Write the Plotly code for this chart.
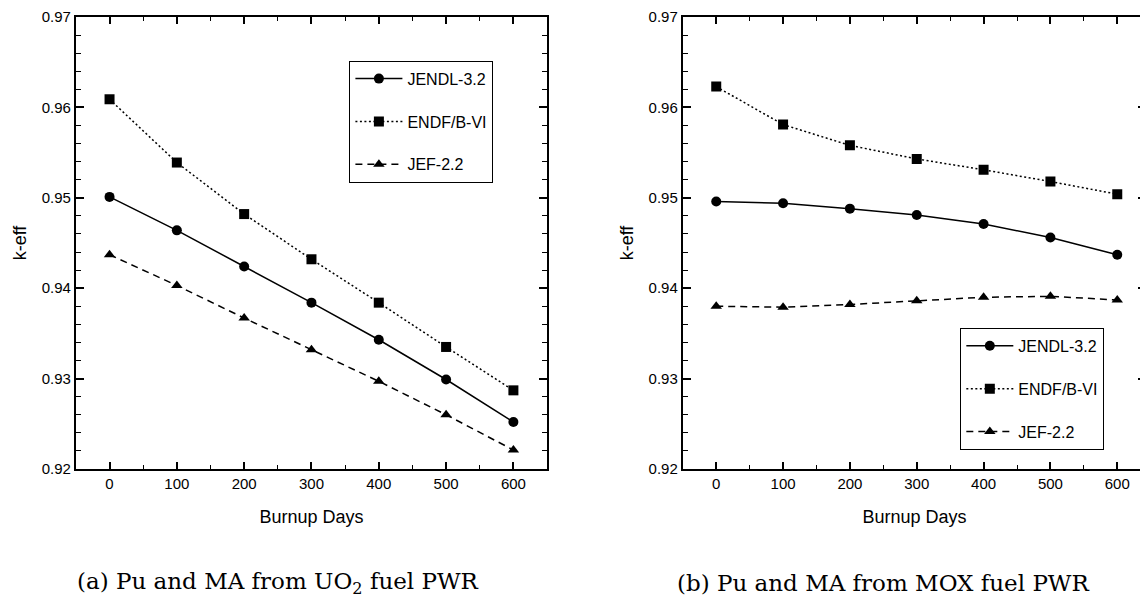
import plotly.graph_objects as go

days = [0, 100, 200, 300, 400, 500, 600]

# (a) Pu and MA from UO2 fuel PWR
uo2_jendl = [0.9501, 0.9464, 0.9424, 0.9384, 0.9343, 0.9299, 0.9252]
uo2_endf = [0.9609, 0.9539, 0.9482, 0.9432, 0.9384, 0.9335, 0.9287]
uo2_jef = [0.9437, 0.9403, 0.9367, 0.9332, 0.9297, 0.9260, 0.9221]

# (b) Pu and MA from MOX fuel PWR
mox_jendl = [0.9496, 0.9494, 0.9488, 0.9481, 0.9471, 0.9456, 0.9437]
mox_endf = [0.9623, 0.9581, 0.9558, 0.9543, 0.9531, 0.9518, 0.9504]
mox_jef = [0.9380, 0.9379, 0.9382, 0.9386, 0.9390, 0.9391, 0.9387]

series_names = ["JENDL-3.2", "ENDF/B-VI", "JEF-2.2"]
y_ticks = [0.92, 0.93, 0.94, 0.95, 0.96, 0.97]
x_ticks = [0, 100, 200, 300, 400, 500, 600]
captions = ["(a) Pu and MA from UO<sub>2</sub> fuel PWR", "(b) Pu and MA from MOX fuel PWR"]

# the page body adds an 8px margin; size the figure to fill the rest
OFF = 8
W, H = 1148 - OFF, 600 - OFF
mt, mb = 14 - OFF, 600 - 469
PH = H - mt - mb

styles = [
    dict(symbol="circle", dash="solid"),
    dict(symbol="square", dash="2px,2.5px"),
    dict(symbol="triangle-up", dash="7px,5px"),
]

fig = go.Figure()
panels = [
    ("x", "y", "legend", [uo2_jendl, uo2_endf, uo2_jef]),
    ("x2", "y2", "legend2", [mox_jendl, mox_endf, mox_jef]),
]
for xa, ya, lg, data in panels:
    for i, (name, vals) in enumerate(zip(series_names, data)):
        st = styles[i]
        fig.add_trace(go.Scatter(
            x=days, y=vals, name=name, xaxis=xa, yaxis=ya, legend=lg,
            legendgroup=f"{lg}_{i}",
            mode="lines+markers",
            line=dict(color="black", width=1.5, dash=st["dash"]),
            marker=dict(symbol=st["symbol"], size=10, color="black"),
        ))

font_family = "Liberation Sans, Arial, sans-serif"

def xax(domain, rng, anchor):
    return dict(
        domain=domain, range=rng, anchor=anchor,
        tickvals=x_ticks, ticks="inside", ticklen=7, tickwidth=1.5, tickcolor="black",
        minor=dict(dtick=50, ticks="inside", ticklen=4, tickwidth=1.2, tickcolor="black"),
        showline=True, linecolor="black", linewidth=2, mirror="allticks",
        showgrid=False, zeroline=False, ticklabeloverflow="allow",
        tickfont=dict(family=font_family, size=15, color="black"),
        title=dict(text="Burnup Days", font=dict(family=font_family, size=18, color="black"), standoff=19),
    )

def yax(anchor):
    return dict(
        domain=[0, 1], range=[0.92, 0.97], anchor=anchor,
        tickvals=y_ticks, tickformat=".2f", ticks="inside", ticklen=8, tickwidth=1.5, tickcolor="black",
        minor=dict(dtick=0.002, ticks="inside", ticklen=5, tickwidth=1.2, tickcolor="black"),
        showline=True, linecolor="black", linewidth=2, mirror="allticks",
        showgrid=False, zeroline=False, ticklabeloverflow="allow",
        tickfont=dict(family=font_family, size=15, color="black"),
        title=dict(text="k-eff", font=dict(family=font_family, size=18, color="black"), standoff=10),
    )

def px_x(p):
    return (p - OFF) / W

def px_y(p):
    return (600 - mb - p) / PH

legend_common = dict(
    bgcolor="white", bordercolor="black", borderwidth=1,
    font=dict(family=font_family, size=16, color="black"),
    itemwidth=47, tracegroupgap=19, xanchor="left", yanchor="top",
)

fig.update_layout(
    width=W, height=H,
    margin=dict(l=0, r=0, t=mt, b=mb),
    paper_bgcolor="white", plot_bgcolor="white",
    xaxis=xax([px_x(76), px_x(548)], [-50, 650], "y"),
    yaxis=yax("x"),
    xaxis2=xax([px_x(684), 1.0], [-50, 643], "y2"),
    yaxis2=yax("x2"),
    legend=dict(x=px_x(350), y=px_y(58), **legend_common),
    legend2=dict(x=px_x(962), y=px_y(327), **legend_common),
    showlegend=True,
)

cap_font = dict(family="DejaVu Serif, serif", size=23, color="black")
fig.add_annotation(text=captions[0], xref="paper", yref="paper", x=px_x(278), y=px_y(584),
                   showarrow=False, font=cap_font, xanchor="center", yanchor="middle")
fig.add_annotation(text=captions[1], xref="paper", yref="paper", x=px_x(885), y=px_y(584),
                   showarrow=False, font=cap_font, xanchor="center", yanchor="middle")

fig.write_html("out.html")
